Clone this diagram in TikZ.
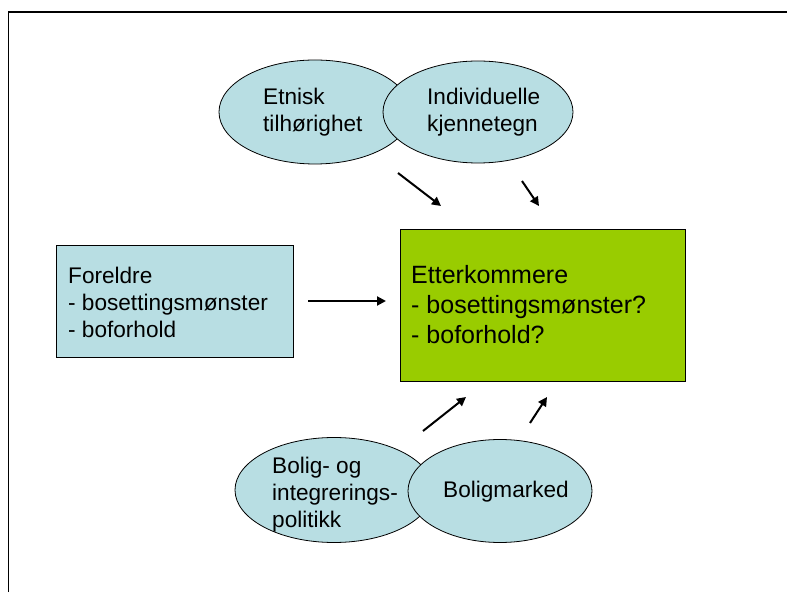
\documentclass[tikz,border=0pt]{standalone}
\usepackage{fontspec}
\setmainfont{Liberation Sans}
\usetikzlibrary{shapes.geometric,arrows.meta}
\definecolor{tealfill}{RGB}{184,222,227}
\definecolor{limefill}{RGB}{153,204,0}
\tikzset{
  oval/.style={ellipse, draw=black, fill=tealfill, line width=0.8pt, inner sep=0pt},
  boxnode/.style={rectangle, draw=black, line width=0.8pt, inner sep=0pt},
  txt/.style={font=\fontsize{22.6}{27}\selectfont, align=left, inner sep=0pt, anchor=base west},
  bigtxt/.style={font=\fontsize{25}{30}\selectfont, align=left, inner sep=0pt, anchor=base west},
  arr/.style={line width=2pt, -{Triangle[length=9pt,width=9pt]}},
}
\begin{document}
\begin{tikzpicture}[x=1pt,y=1pt]
\useasboundingbox (0,0) rectangle (787,592);
\draw[line width=1.3pt] (8.5,0) -- (8.5,580) -- (787,580);

% top ellipses
\node[oval, minimum width=192, minimum height=104] (etn) at (315,480) {};
\node[txt] (etnt) at (263,460) {Etnisk\\tilhørighet};
\node[oval, minimum width=190, minimum height=102] (ind) at (478,480) {};
\node[txt] (indt) at (427,460) {Individuelle\\kjennetegn};

% boxes
\node[boxnode, fill=tealfill, minimum width=237, minimum height=112] (for) at (174.5,291) {};
\node[txt] (fort) at (68,254) {Foreldre\\- bosettingsmønster\\- boforhold};
\node[boxnode, fill=limefill, minimum width=285, minimum height=152] (ett) at (542.5,287) {};
\node[bigtxt] (ettt) at (411,248) {Etterkommere\\- bosettingsmønster?\\- boforhold?};

% bottom ellipses
\node[oval, minimum width=198, minimum height=105] (bol) at (334,102) {};
\node[txt] (bolt) at (272,65) {Bolig- og\\integrerings-\\politikk};
\node[oval, minimum width=184, minimum height=103] (bm) at (500,101) {};
\node[txt] (bmt) at (443,95) {Boligmarked};

% arrow end points
\coordinate (a1s) at (398,419);
\coordinate (a1e) at (441,386);
\coordinate (a2s) at (522,411);
\coordinate (a2e) at (539,386);
\coordinate (a3s) at (308,291);
\coordinate (a3e) at (386,291);
\coordinate (a4s) at (423,161);
\coordinate (a4e) at (466,195);
\coordinate (a5s) at (530,169);
\coordinate (a5e) at (547,195);
\draw[arr] (a1s) -- (a1e);
\draw[arr] (a2s) -- (a2e);
\draw[arr] (a3s) -- (a3e);
\draw[arr] (a4s) -- (a4e);
\draw[arr] (a5s) -- (a5e);
\end{tikzpicture}
\end{document}
